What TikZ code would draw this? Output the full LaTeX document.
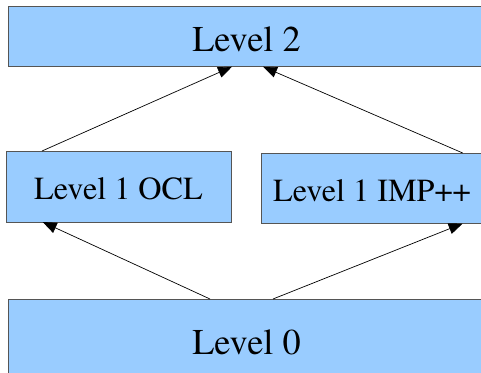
\documentclass[tikz,border=0pt]{standalone}
\usepackage[T1]{fontenc}
\usepackage{mathptmx}
\usetikzlibrary{arrows.meta}
\definecolor{boxblue}{HTML}{99CCFF}
\definecolor{boxline}{HTML}{555555}
\tikzset{
  lvlbox/.style={draw=boxline, line width=1pt, fill=boxblue, rectangle, inner sep=0pt, outer sep=0pt, text=black},
  bigtxt/.style={font=\fontsize{36.3}{40}\selectfont, text height=29pt, text depth=0pt},
  midtxt/.style={font=\fontsize{32.2}{36}\selectfont, text height=26.5pt, text depth=0pt},
  conn/.style={line width=0.7pt, -{Triangle[length=14pt,width=11pt]}}
}
\begin{document}
\begin{tikzpicture}[x=1pt,y=-1pt]
\useasboundingbox (0,0) rectangle (481,372);
\clip (0,0) rectangle (481,372);
\node[lvlbox, bigtxt, minimum width=477pt, minimum height=60pt] (l2) at (246.5,36.7) {Level 2};
\node[lvlbox, midtxt, minimum width=225pt, minimum height=71pt] (ocl) at (118.5,186.5) {Level 1 OCL};
\node[lvlbox, midtxt, minimum width=222pt, minimum height=70.5pt] (imp) at (372,188.25) {Level 1 IMP++};
\node[lvlbox, bigtxt, minimum width=477pt, minimum height=81pt] (l0) at (246.5,339.5) {Level 0};
\draw[conn] ([xshift=36pt]ocl.north west) -- ([xshift=224pt]l2.south west);
\draw[conn] ([xshift=201.7pt]imp.north west) -- ([xshift=255pt]l2.south west);
\draw[conn] ([xshift=202pt]l0.north west) -- ([xshift=36.7pt]ocl.south west);
\draw[conn] ([xshift=265pt]l0.north west) -- ([xshift=201.7pt]imp.south west);
\end{tikzpicture}
\end{document}
